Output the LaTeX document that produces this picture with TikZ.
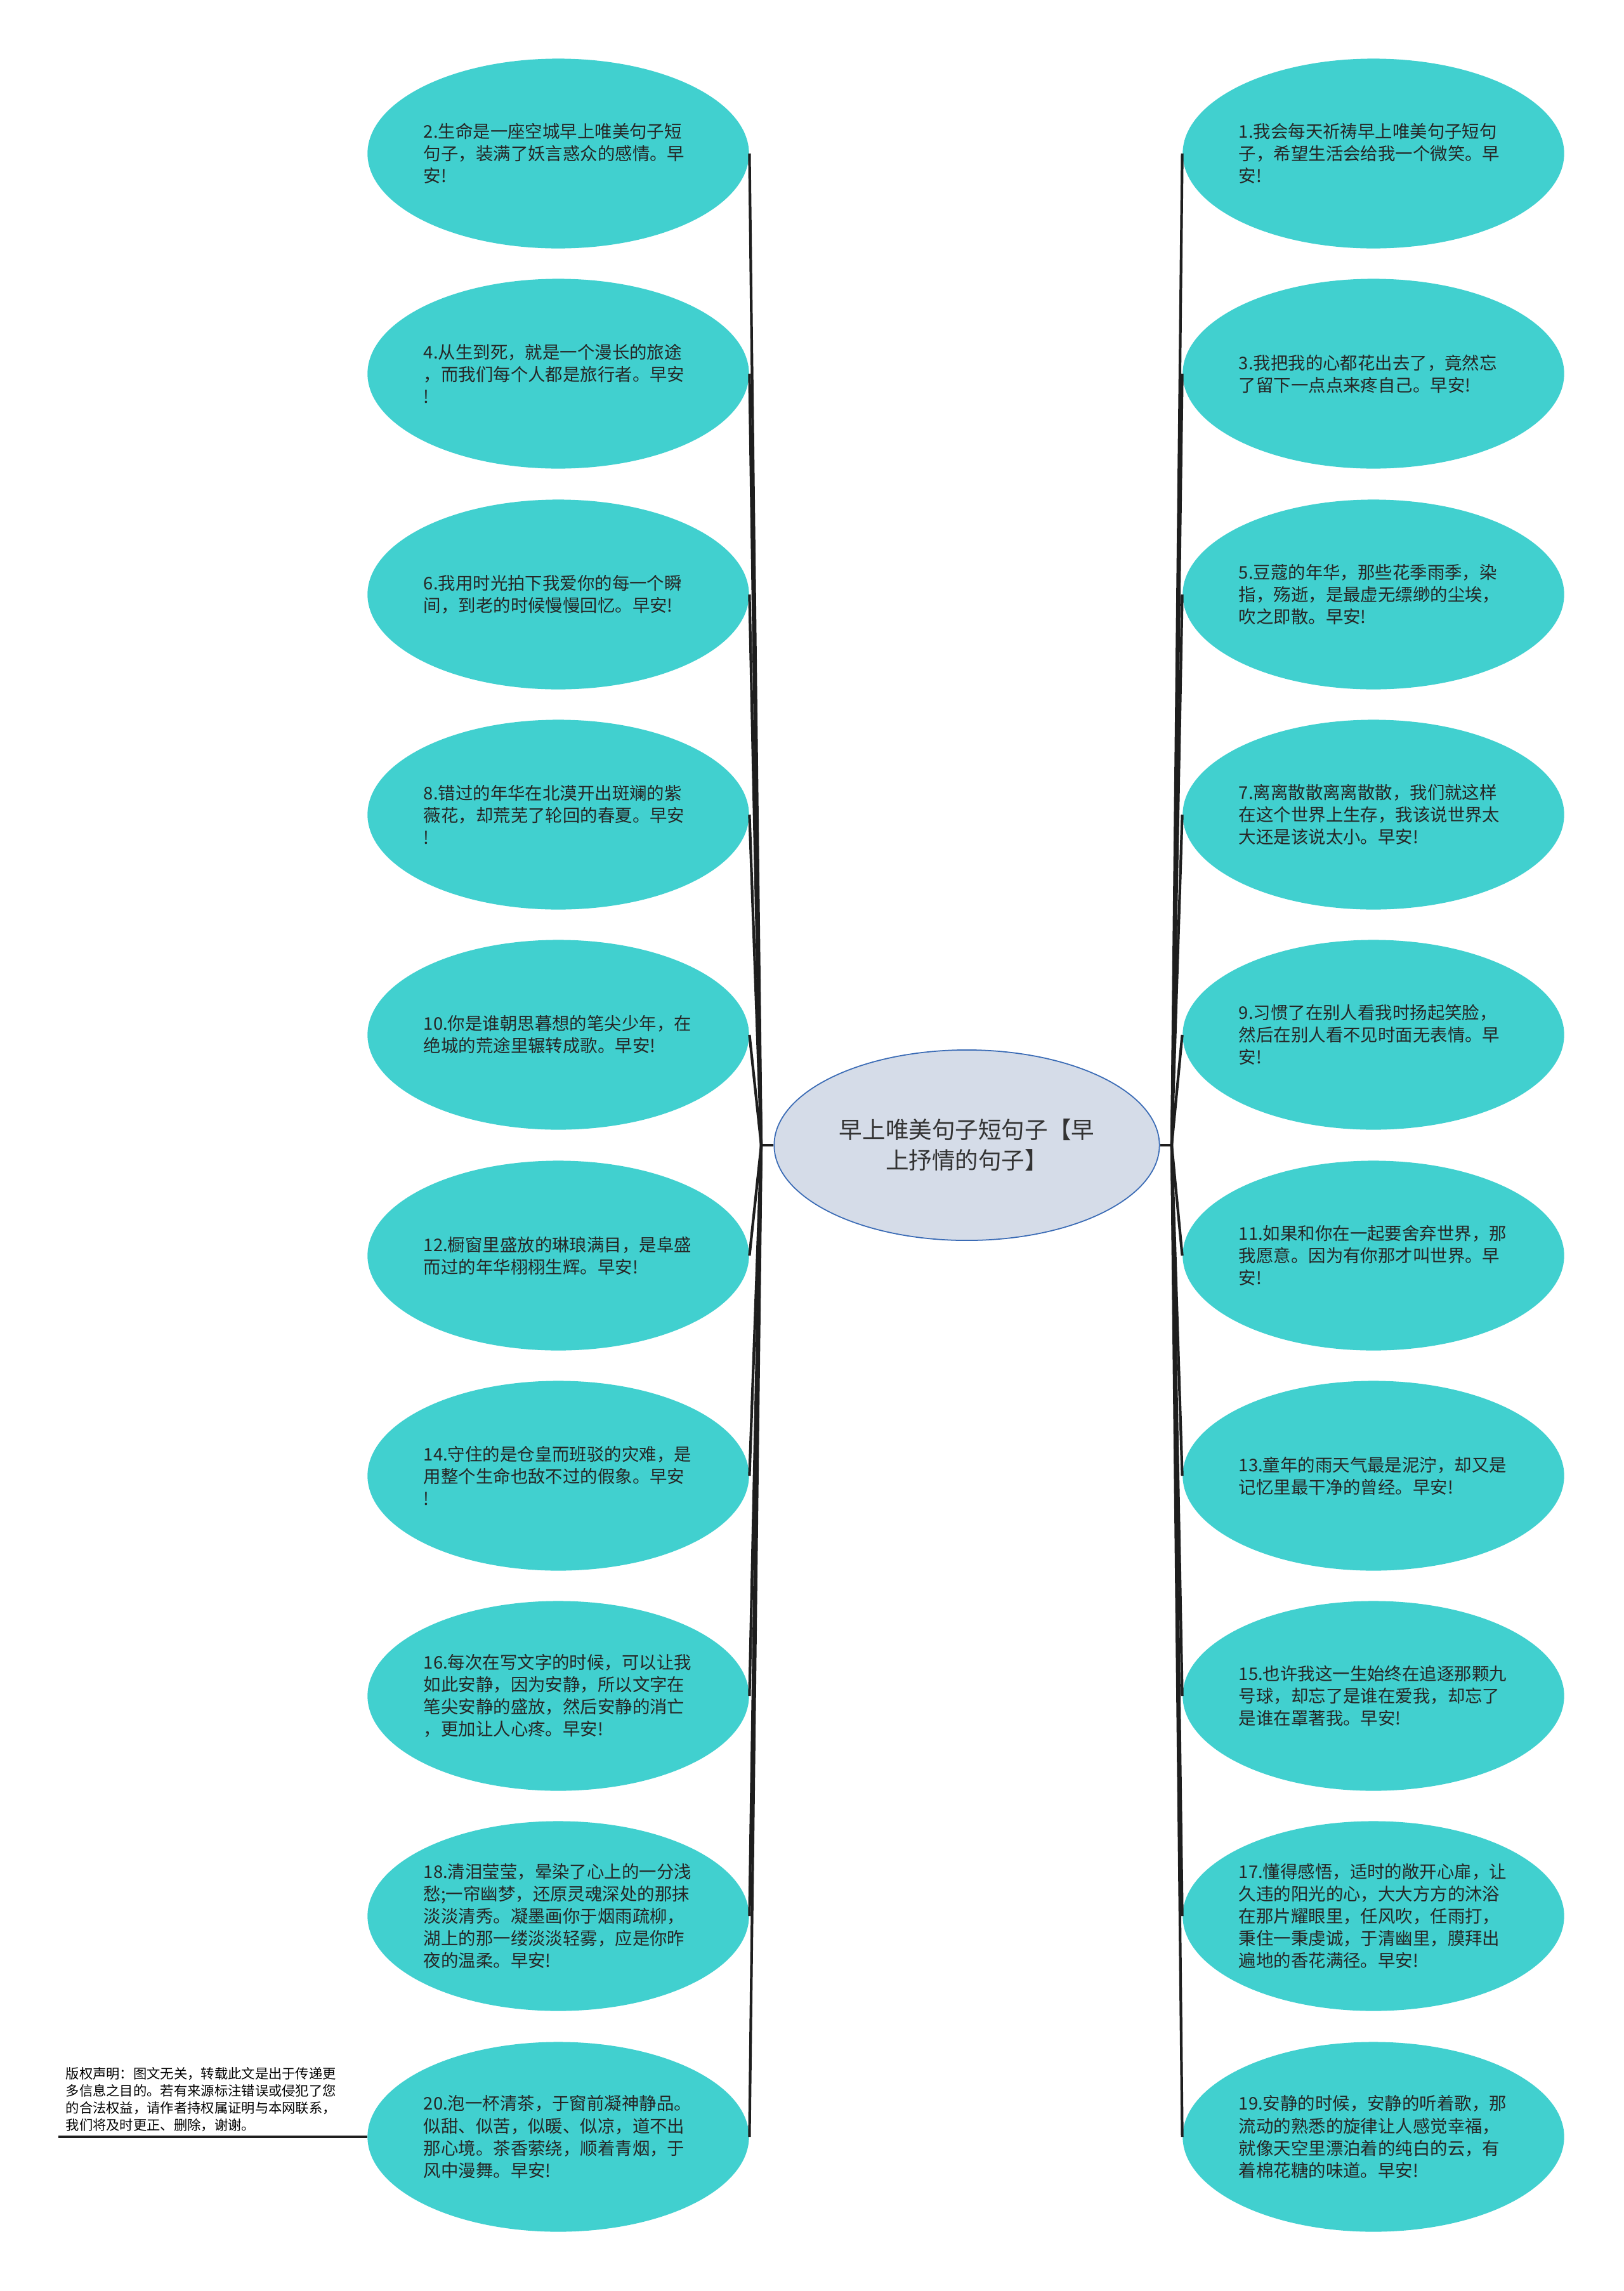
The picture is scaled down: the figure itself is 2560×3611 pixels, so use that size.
\documentclass[tikz,border=0pt]{standalone}
\usepackage{fontspec}
\setmainfont{Noto Sans CJK SC}
\usepackage{tikz}
\usetikzlibrary{shapes.geometric}
\definecolor{leaffill}{HTML}{41D0CF}
\definecolor{rootfill}{HTML}{D5DCE8}
\definecolor{rootline}{HTML}{3A6BB5}
\definecolor{linkcol}{HTML}{1E1E1E}

\begin{document}
\begin{tikzpicture}[x=0.01cm, y=-0.01cm]
\tikzset{leaf/.style={ellipse, fill=leaffill, minimum width=6.01cm, minimum height=2.99cm, inner sep=0pt, text width=4.24cm, align=left, text=black!85, font=\fontsize{7.8}{9.96}\selectfont}}
\tikzset{link/.style={draw=linkcol, line width=1.2pt}}
\tikzset{memo/.style={text width=4.3cm, align=left, inner xsep=0.11cm, inner ysep=0.08cm, font=\fontsize{6.06}{7.65}\selectfont}}
\useasboundingbox (0,0) rectangle (2560,3611);
% centre topic
\node[ellipse, draw=rootline, line width=0.5pt, fill=rootfill, minimum width=6.07cm, minimum height=3cm, inner sep=0pt, align=center, text=black!80, font=\fontsize{10.4}{13.66}\selectfont] (root) at (1524,1805) {早上唯美句子短句子【早\\上抒情的句子】};
% left column
\node[leaf] (q2) at (880,242) {2.生命是一座空城早上唯美句子短\\句子，装满了妖言惑众的感情。早\\安!};
\node[leaf] (q4) at (880,589) {4.从生到死，就是一个漫长的旅途\\，而我们每个人都是旅行者。早安\\!};
\node[leaf] (q6) at (880,937) {6.我用时光拍下我爱你的每一个瞬\\间，到老的时候慢慢回忆。早安!};
\node[leaf] (q8) at (880,1284) {8.错过的年华在北漠开出斑斓的紫\\薇花，却荒芜了轮回的春夏。早安\\!};
\node[leaf] (q10) at (880,1631) {10.你是谁朝思暮想的笔尖少年，在\\绝城的荒途里辗转成歌。早安!};
\node[leaf] (q12) at (880,1979) {12.橱窗里盛放的琳琅满目，是阜盛\\而过的年华栩栩生辉。早安!};
\node[leaf] (q14) at (880,2326) {14.守住的是仓皇而班驳的灾难，是\\用整个生命也敌不过的假象。早安\\!};
\node[leaf] (q16) at (880,2673) {16.每次在写文字的时候，可以让我\\如此安静，因为安静，所以文字在\\笔尖安静的盛放，然后安静的消亡\\，更加让人心疼。早安!};
\node[leaf] (q18) at (880,3020) {18.清泪莹莹，晕染了心上的一分浅\\愁;一帘幽梦，还原灵魂深处的那抹\\淡淡清秀。凝墨画你于烟雨疏柳，\\湖上的那一缕淡淡轻雾，应是你昨\\夜的温柔。早安!};
\node[leaf] (q20) at (880,3368) {20.泡一杯清茶，于窗前凝神静品。\\似甜、似苦，似暖、似凉，道不出\\那心境。茶香萦绕，顺着青烟，于\\风中漫舞。早安!};
% right column
\node[leaf] (q1) at (2165,242) {1.我会每天祈祷早上唯美句子短句\\子，希望生活会给我一个微笑。早\\安!};
\node[leaf] (q3) at (2165,589) {3.我把我的心都花出去了，竟然忘\\了留下一点点来疼自己。早安!};
\node[leaf] (q5) at (2165,937) {5.豆蔻的年华，那些花季雨季，染\\指，殇逝，是最虚无缥缈的尘埃，\\吹之即散。早安!};
\node[leaf] (q7) at (2165,1284) {7.离离散散离离散散，我们就这样\\在这个世界上生存，我该说世界太\\大还是该说太小。早安!};
\node[leaf] (q9) at (2165,1631) {9.习惯了在别人看我时扬起笑脸，\\然后在别人看不见时面无表情。早\\安!};
\node[leaf] (q11) at (2165,1979) {11.如果和你在一起要舍弃世界，那\\我愿意。因为有你那才叫世界。早\\安!};
\node[leaf] (q13) at (2165,2326) {13.童年的雨天气最是泥泞，却又是\\记忆里最干净的曾经。早安!};
\node[leaf] (q15) at (2165,2673) {15.也许我这一生始终在追逐那颗九\\号球，却忘了是谁在爱我，却忘了\\是谁在罩著我。早安!};
\node[leaf] (q17) at (2165,3020) {17.懂得感悟，适时的敞开心扉，让\\久违的阳光的心，大大方方的沐浴\\在那片耀眼里，任风吹，任雨打，\\秉住一秉虔诚，于清幽里，膜拜出\\遍地的香花满径。早安!};
\node[leaf] (q19) at (2165,3368) {19.安静的时候，安静的听着歌，那\\流动的熟悉的旋律让人感觉幸福，\\就像天空里漂泊着的纯白的云，有\\着棉花糖的味道。早安!};
% copyright note
\node[memo, anchor=south west] (note) at (92,3368) {版权声明：图文无关，转载此文是出于传递更\\多信息之目的。若有来源标注错误或侵犯了您\\的合法权益，请作者持权属证明与本网联系，\\我们将及时更正、删除，谢谢。};
% connectors
\coordinate (jl) at (1200,1805);
\coordinate (jr) at (1847,1805);
\draw[link] (root.west) -- (jl);
\draw[link] (root.east) -- (jr);
\draw[link] (jl) -- (q2.east);
\draw[link] (jl) -- (q4.east);
\draw[link] (jl) -- (q6.east);
\draw[link] (jl) -- (q8.east);
\draw[link] (jl) -- (q10.east);
\draw[link] (jl) -- (q12.east);
\draw[link] (jl) -- (q14.east);
\draw[link] (jl) -- (q16.east);
\draw[link] (jl) -- (q18.east);
\draw[link] (jl) -- (q20.east);
\draw[link] (jr) -- (q1.west);
\draw[link] (jr) -- (q3.west);
\draw[link] (jr) -- (q5.west);
\draw[link] (jr) -- (q7.west);
\draw[link] (jr) -- (q9.west);
\draw[link] (jr) -- (q11.west);
\draw[link] (jr) -- (q13.west);
\draw[link] (jr) -- (q15.west);
\draw[link] (jr) -- (q17.west);
\draw[link] (jr) -- (q19.west);
\draw[link] (note.south west) -- (q20.west);
\end{tikzpicture}
\end{document}
